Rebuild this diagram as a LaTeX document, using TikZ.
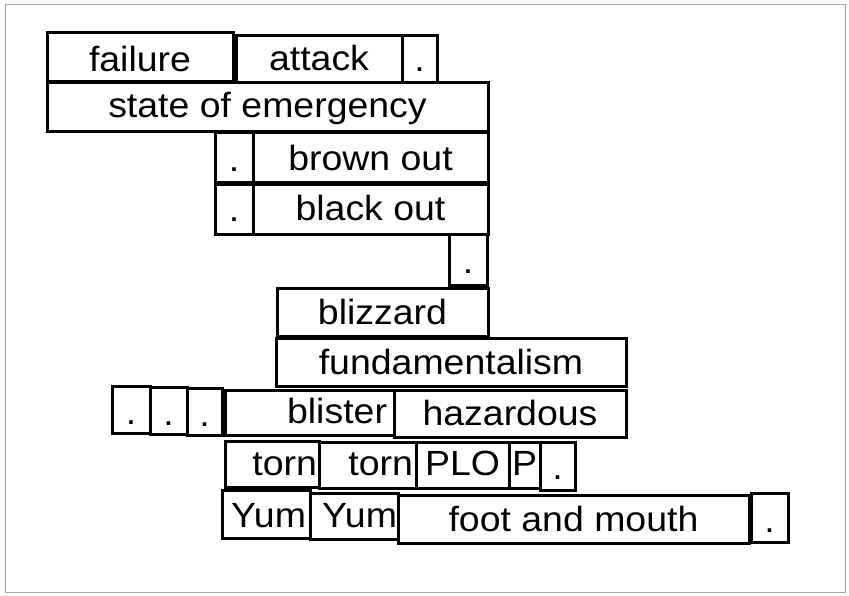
\documentclass[tikz,border=0pt]{standalone}
\usepackage{fontspec}
\setmainfont{Liberation Sans}[FakeStretch=1.07]
% #1 baseline above bottom, #2 name, #3 x1, #4 y1, #5 x2, #6 y2, #7 text
\newcommand\cellbox[7][12]{%
  \pgfmathsetmacro\cbh{#6-#4-#1}%
  \node[cell,minimum width={(#5-#3)*1pt},text height=\cbh pt,text depth=#1pt]
    (#2) at ({(#3+#5)/2},{(#4+#6)/2}) {#7};}
\begin{document}
\begin{tikzpicture}[x=1pt,y=-1pt,
  cell/.style={draw=black, line width=3pt, fill=white, inner sep=0pt,
    font=\fontsize{35}{42}\selectfont}]
\useasboundingbox (0,0) rectangle (849,596);
\draw[gray!70, line width=1pt] (5,5) rectangle (845,592);
\cellbox[10]{failure}{47}{33}{233}{82}{failure}
\cellbox{attack}{236}{36}{402}{83}{attack}
\cellbox[11]{dotA}{402}{36}{437}{83}{.}
\cellbox[14]{state}{47}{83}{488}{132}{state of emergency}
\cellbox[11]{dotB}{215}{133}{253}{183}{.}
\cellbox{brown}{253}{133}{488}{183}{brown out}
\cellbox[13]{dotC}{215}{185}{253}{235}{.}
\cellbox[14]{black}{253}{185}{488}{235}{black out}
\cellbox[12]{dotD}{449}{235}{487}{285}{.}
\cellbox{blizzard}{277}{288}{488}{336}{blizzard}
\cellbox{fund}{276}{338}{626}{386}{fundamentalism}
\cellbox[9]{dotE}{112}{386}{150}{433}{.}
\cellbox[9]{dotF}{150}{387}{187}{434}{.}
\cellbox[9]{dotG}{187}{388}{222}{435}{.}
\cellbox{blister}{225}{390}{394}{435}{\makebox[155pt][r]{blister}}
\cellbox{hazard}{394}{390}{626}{437}{hazardous}
\cellbox{tornA}{225}{441}{319}{487}{\makebox[90pt][r]{torn}}
\cellbox[13]{tornB}{319}{442}{416}{488}{\makebox[91pt][r]{torn}}
\cellbox[13]{plo}{416}{442}{509}{488}{PLO}
\cellbox[13]{p}{509}{442}{540}{488}{P}
\cellbox[11]{dotH}{540}{442}{575}{490}{.}
\cellbox[11]{yumA}{222}{490}{310}{538}{\makebox[80pt][r]{Yum}}
\cellbox{yumB}{310}{493}{398}{539}{\makebox[86pt][r]{Yum}}
\cellbox{foot}{398}{495}{749}{543}{foot and mouth}
\cellbox[10]{dotI}{751}{493}{788}{542}{.}
\end{tikzpicture}
\end{document}
